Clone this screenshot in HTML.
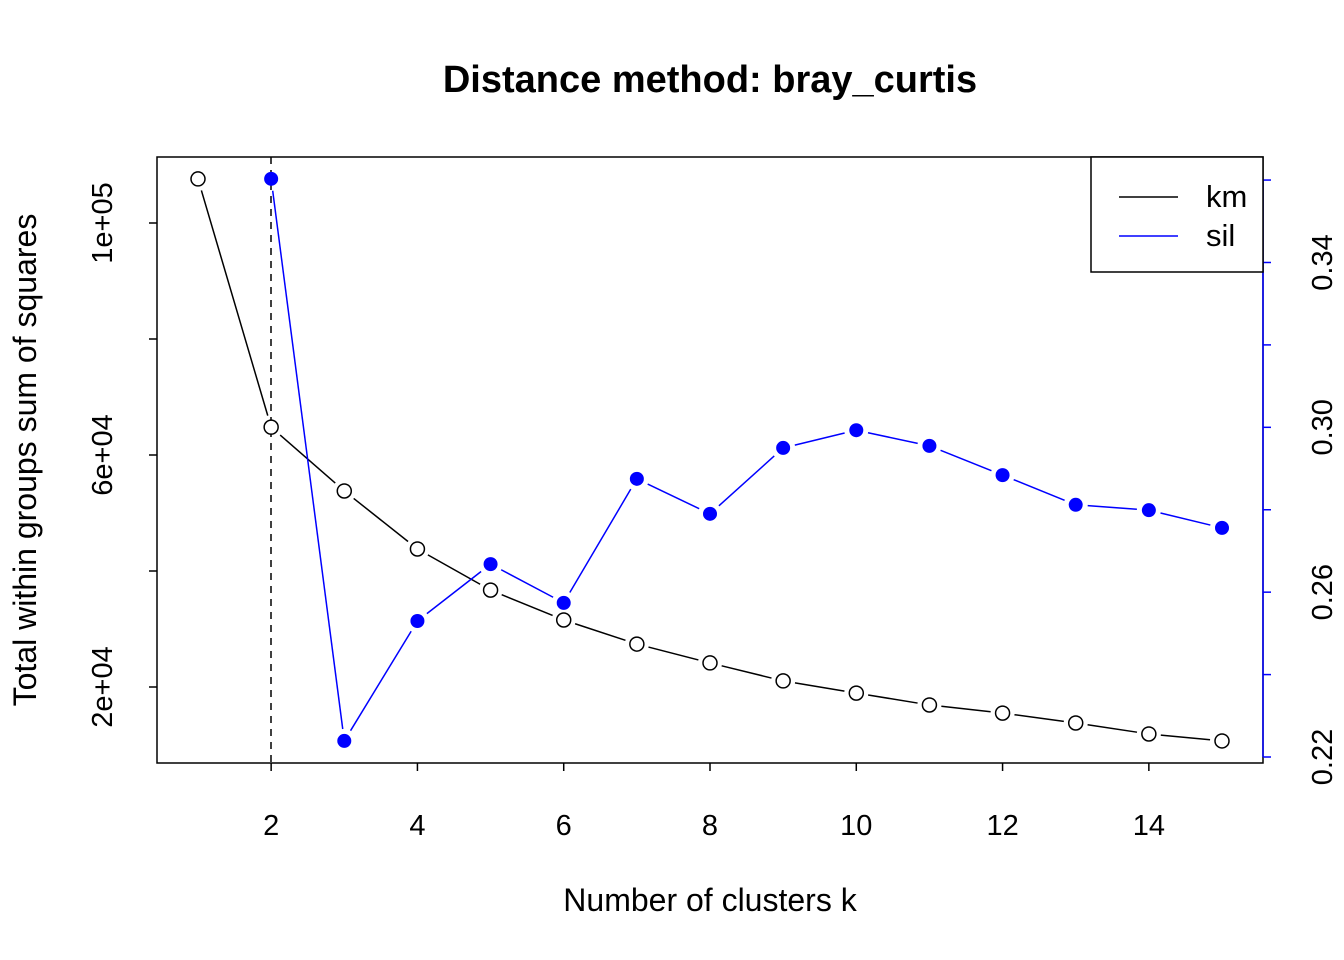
<!DOCTYPE html>
<html><head><meta charset="utf-8"><style>
html,body{margin:0;padding:0;background:#fff;}
svg{display:block;font-family:"Liberation Sans",Arial,sans-serif;}
</style></head><body>
<svg id="chart" width="1344" height="960">
<text x="710" y="92" font-size="38" font-weight="bold" text-anchor="middle">Distance method: bray_curtis</text>
<rect x="157" y="157" width="1106" height="606" fill="none" stroke="#000" stroke-width="1.5"/>
<g id="xaxis"></g>
<g id="yleft"></g>
<g id="yright"></g>
<text x="710" y="911" font-size="32" text-anchor="middle">Number of clusters k</text>
<text transform="translate(36,460) rotate(-90)" font-size="32" text-anchor="middle">Total within groups sum of squares</text>
<line x1="271" y1="157" x2="271" y2="763" stroke="#000" stroke-width="1.5" stroke-dasharray="7,6"/>
<g id="series"></g>
<g>
<rect x="1091" y="157" width="172" height="115" fill="#fff" stroke="#000" stroke-width="1.5"/>
<line x1="1119" y1="197" x2="1178" y2="197" stroke="#000" stroke-width="1.5"/>
<text x="1206" y="207" font-size="31">km</text>
<line x1="1119" y1="236" x2="1178" y2="236" stroke="#0000ff" stroke-width="1.5"/>
<text x="1206" y="246" font-size="31">sil</text>
</g>
</svg>
<script>
const kValues = [1,2,3,4,5,6,7,8,9,10,11,12,13,14,15];
const kmValues = [107600,64800,53800,43800,36700,31550,27400,24150,21050,18950,16900,15500,13800,11900,10700];
const silK = [2,3,4,5,6,7,8,9,10,11,12,13,14,15];
const silValues = [0.3603,0.2239,0.2530,0.2668,0.2574,0.2875,0.2790,0.2950,0.2993,0.2955,0.2884,0.2812,0.2799,0.2756];
const xTicks = [2,4,6,8,10,12,14];
const yLeftTicks = [20000,40000,60000,80000,100000];
const yLeftLabels = ["2e+04","","6e+04","","1e+05"];
const yRightTicks = [0.22,0.24,0.26,0.28,0.30,0.32,0.34,0.36];
const yRightLabels = ["0.22","","0.26","","0.30","","0.34",""];

const NS="http://www.w3.org/2000/svg";
function X(k){return 198+(k-1)*(1222-198)/14;}
function YL(v){return 223+(100000-v)*232/40000;}
function YR(v){return 757-(v-0.22)*4121;}
function mk(tag,attrs,parent){const e=document.createElementNS(NS,tag);for(const a in attrs)e.setAttribute(a,attrs[a]);parent.appendChild(e);return e;}

const xa=document.getElementById('xaxis');
xTicks.forEach(t=>{
  const l=mk('line',{x1:X(t),x2:X(t),y1:763,y2:771,stroke:'#000','stroke-width':1.5},xa);
  
  
  const tx=mk('text',{x:X(t),y:835,'font-size':29,'text-anchor':'middle'},xa);
  tx.textContent=t;
  
  
});
const yl=document.getElementById('yleft');
yLeftTicks.forEach((t,i)=>{
  const l=mk('line',{x1:149,x2:157,y1:YL(t),y2:YL(t),stroke:'#000','stroke-width':1.5},yl);
  
  
  if(yLeftLabels[i]){
    const tx=mk('text',{transform:`translate(112,${YL(t)}) rotate(-90)`,'font-size':29,'text-anchor':'middle'},yl);
    tx.textContent=yLeftLabels[i];
    
    
  }
});
const yr=document.getElementById('yright');
const ra=mk('line',{x1:1263,x2:1263,y1:YR(0.22),y2:YR(0.36),stroke:'#0000ff','stroke-width':1.5},yr);


yRightTicks.forEach((t,i)=>{
  const l=mk('line',{x1:1263,x2:1271,y1:YR(t),y2:YR(t),stroke:'#0000ff','stroke-width':1.5},yr);
  
  
  if(yRightLabels[i]){
    const tx=mk('text',{transform:`translate(1332,${YR(t)}) rotate(-90)`,'font-size':29,'text-anchor':'middle'},yr);
    tx.textContent=yRightLabels[i];
    
    
  }
});

const sg=document.getElementById('series');
function drawSeries(xs,ys,color,filled,name){
  const g=mk('g',{},sg);
  
  
  const gap=12;
  for(let i=0;i<xs.length-1;i++){
    const x1=xs[i],y1=ys[i],x2=xs[i+1],y2=ys[i+1];
    const d=Math.hypot(x2-x1,y2-y1);if(d<=2*gap)continue;
    const ux=(x2-x1)/d,uy=(y2-y1)/d;
    const l=mk('line',{x1:x1+ux*gap,y1:y1+uy*gap,x2:x2-ux*gap,y2:y2-uy*gap,stroke:color,'stroke-width':1.5},g);
    
    
  }
  xs.forEach((x,i)=>{
    const c=mk('circle',filled?{cx:x,cy:ys[i],r:7,fill:color}:{cx:x,cy:ys[i],r:7,fill:'#fff',stroke:color,'stroke-width':1.5},g);
    
    
  });
}
drawSeries(kValues.map(X),kmValues.map(YL),'#000',false,'km');
drawSeries(silK.map(X),silValues.map(YR),'#0000ff',true,'sil');
</script>
</body></html>
